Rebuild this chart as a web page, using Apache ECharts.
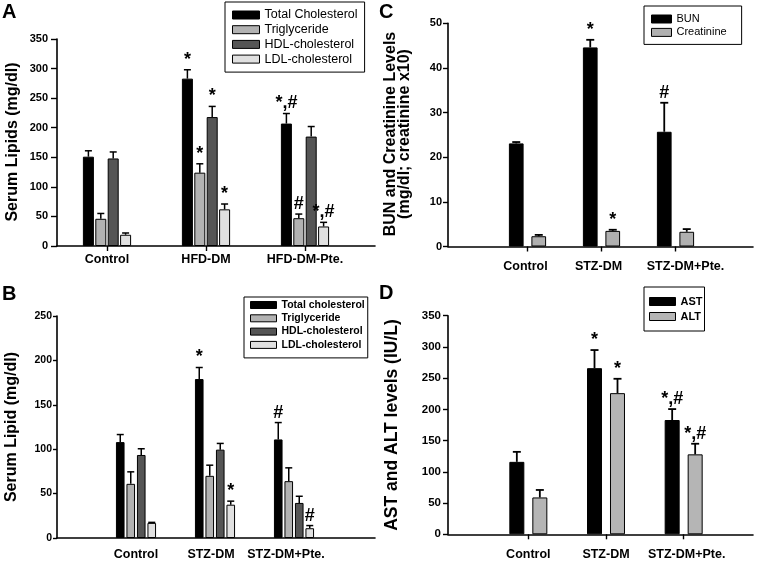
<!DOCTYPE html>
<html>
<head>
<meta charset="utf-8">
<script src="https://cdn.jsdelivr.net/npm/echarts@6/dist/echarts.min.js"></script>
<style>html,body{margin:0;padding:0;background:#fff}#c{width:764px;height:562px}</style>
</head>
<body>
<div id="c"></div>
<script>
// ---------- Panel A ----------
const catsA = ['Control', 'HFD-DM', 'HFD-DM-Pte.'];
const namesA = ['Total Cholesterol', 'Triglyceride', 'HDL-cholesterol', 'LDL-cholesterol'];
const tcA = [151, 283, 207];
const tgA = [46, 124, 47];
const hdlA = [148, 218, 185];
const ldlA = [19, 62, 33];
const tcErrA = [10, 15, 17];
const tgErrA = [9, 15, 7];
const hdlErrA = [11, 18, 17];
const ldlErrA = [3, 9, 7];
const tcSigA = ['', '*', '*,#'];
const tgSigA = ['', '*', '#'];
const hdlSigA = ['', '*', ''];
const ldlSigA = ['', '*', '*,#'];
const ticksA = {min: 0, max: 350, interval: 50};

// ---------- Panel B ----------
const catsB = ['Control', 'STZ-DM', 'STZ-DM+Pte.'];
const namesB = ['Total cholesterol', 'Triglyceride', 'HDL-cholesterol', 'LDL-cholesterol'];
const tcB = [108, 179, 111];
const tgB = [61, 70, 64];
const hdlB = [93.5, 99.5, 39.5];
const ldlB = [17, 37.5, 11];
const tcErrB = [8.5, 13, 19];
const tgErrB = [13.5, 12, 15];
const hdlErrB = [7, 7, 7.5];
const ldlErrB = [0.6, 4, 3];
const tcSigB = ['', '*', '#'];
const tgSigB = ['', '', ''];
const hdlSigB = ['', '', ''];
const ldlSigB = ['', '*', '#'];
const ticksB = {min: 0, max: 250, interval: 50};

// ---------- Panel C ----------
const catsC = ['Control', 'STZ-DM', 'STZ-DM+Pte.'];
const namesC = ['BUN', 'Creatinine'];
const bunC = [23.1, 44.6, 25.7];
const creatC = [2.3, 3.5, 3.3];
const bunErrC = [0.3, 1.7, 6.5];
const creatErrC = [0.3, 0.25, 0.6];
const bunSigC = ['', '*', '#'];
const creatSigC = ['', '*', ''];
const ticksC = {min: 0, max: 50, interval: 10};

// ---------- Panel D ----------
const catsD = ['Control', 'STZ-DM', 'STZ-DM+Pte.'];
const namesD = ['AST', 'ALT'];
const astD = [116, 266, 183];
const altD = [59, 226, 128];
const astErrD = [16, 29, 17.5];
const altErrD = [12, 23, 17];
const astSigD = ['', '*', '*,#'];
const altSigD = ['', '*', '*,#'];
const ticksD = {min: 0, max: 350, interval: 50};

const FONT = '"Liberation Sans", Arial, Helvetica, sans-serif';

const panels = [
  { cats: catsA, names: namesA, means: [tcA, tgA, hdlA, ldlA], errs: [tcErrA, tgErrA, hdlErrA, ldlErrA],
    sigs: [tcSigA, tgSigA, hdlSigA, ldlSigA], ticks: ticksA,
    colors: ['#000000', '#b2b2b2', '#555555', '#e0e0e0'],
    frame: {left: 57, top: 39, width: 318, height: 207},
    data: {left: 57.5, width: 297},
    barW: 11, gap: 1.4, capW: 7, errLW: 1.5,
    yLabel: {size: 11, margin: 9, tick: 6},
    xLabel: {size: 12.5, margin: 7, tick: true, shift: [0, 0, 0]},
    legend: {left: 225, top: 2, padding: [6, 7, 6, 7], itemWidth: 27, itemHeight: 8, lineHeight: 14, itemGap: 0.7, size: 12.5, weight: 'normal'}
  },
  { cats: catsB, names: namesB, means: [tcB, tgB, hdlB, ldlB], errs: [tcErrB, tgErrB, hdlErrB, ldlErrB],
    sigs: [tcSigB, tgSigB, hdlSigB, ldlSigB], ticks: ticksB,
    colors: ['#000000', '#b2b2b2', '#555555', '#e0e0e0'],
    frame: {left: 57, top: 316, width: 318, height: 222},
    data: {left: 96.5, width: 237},
    barW: 8.6, gap: 1.9, capW: 7, errLW: 1.5,
    yLabel: {size: 10.5, margin: 5, tick: 4},
    xLabel: {size: 12.5, margin: 10, tick: false, shift: [0, -4, -8]},
    legend: {left: 244, top: 297, padding: [2, 3, 7, 6], itemWidth: 26, itemHeight: 7, lineHeight: 12, itemGap: 1.3, size: 10.5, weight: 'bold'}
  },
  { cats: catsC, names: namesC, means: [bunC, creatC], errs: [bunErrC, creatErrC],
    sigs: [bunSigC, creatSigC], ticks: ticksC,
    colors: ['#000000', '#b0b0b0'],
    frame: {left: 448, top: 23.3, width: 305, height: 223.2},
    data: {left: 490.5, width: 222},
    barW: 14.7, gap: 7.8, capW: 8, errLW: 1.8,
    yLabel: {size: 11, margin: 6, tick: 5},
    xLabel: {size: 12.5, margin: 14, tick: true, shift: [-2, -3, 10]},
    legend: {left: 644, top: 6, padding: [7, 15, 6, 7], itemWidth: 20, itemHeight: 8, lineHeight: 12, itemGap: 1.4, size: 11, weight: 'normal'}
  },
  { cats: catsD, names: namesD, means: [astD, altD], errs: [astErrD, altErrD],
    sigs: [astSigD, altSigD], ticks: ticksD,
    colors: ['#000000', '#b5b5b5'],
    frame: {left: 448, top: 315.7, width: 305, height: 218.6},
    data: {left: 489.5, width: 233},
    barW: 15, gap: 8, capW: 8, errLW: 1.8,
    yLabel: {size: 11.5, margin: 7, tick: 5},
    xLabel: {size: 12.5, margin: 14, tick: true, shift: [0, 0, 3]},
    legend: {left: 644, top: 287, padding: [8, 2, 8, 5], itemWidth: 26, itemHeight: 8, lineHeight: 13, itemGap: 2, size: 11, weight: 'bold'}
  }
];

const grid = [], xAxis = [], yAxis = [], series = [], legend = [];
const axisLineStyle = {color: '#000', width: 1.6};

panels.forEach((p, pi) => {
  const fi = pi * 2, di = pi * 2 + 1;
  grid.push({left: p.frame.left, top: p.frame.top, width: p.frame.width, height: p.frame.height, containLabel: false});
  grid.push({left: p.data.left, top: p.frame.top, width: p.data.width, height: p.frame.height, containLabel: false});
  // frame axes
  xAxis.push({gridIndex: fi, type: 'value', min: 0, max: 1, axisLine: {show: true, lineStyle: axisLineStyle},
    axisTick: {show: false}, axisLabel: {show: false}, splitLine: {show: false}});
  yAxis.push({gridIndex: fi, type: 'value', min: p.ticks.min, max: p.ticks.max, interval: p.ticks.interval,
    axisLine: {show: true, lineStyle: axisLineStyle},
    axisTick: {show: true, inside: false, length: p.yLabel.tick, lineStyle: {color: '#000', width: 1.4}},
    axisLabel: {color: '#000', fontFamily: FONT, fontWeight: 'bold', fontSize: p.yLabel.size, margin: p.yLabel.margin},
    splitLine: {show: false}});
  // data axes (label shifts via rich padding)
  const rich = {};
  p.xLabel.shift.forEach((s, i) => {
    rich['l' + i] = {color: '#000', fontFamily: FONT, fontWeight: 'bold', fontSize: p.xLabel.size,
      padding: s >= 0 ? [0, 0, 0, 2 * s] : [0, -2 * s, 0, 0]};
  });
  xAxis.push({gridIndex: di, type: 'category', data: p.cats, boundaryGap: true,
    axisLine: {show: false},
    axisTick: {show: p.xLabel.tick, alignWithLabel: true, length: 5, lineStyle: {color: '#000', width: 1.4}},
    axisLabel: {color: '#000', fontFamily: FONT, fontWeight: 'bold', fontSize: p.xLabel.size, margin: p.xLabel.margin, interval: 0,
      formatter: (v, i) => '{l' + i + '|' + v + '}', rich: rich},
    splitLine: {show: false}});
  yAxis.push({gridIndex: di, type: 'value', min: p.ticks.min, max: p.ticks.max, interval: p.ticks.interval, show: false,
    splitLine: {show: false}});

  const n = p.names.length;
  p.names.forEach((name, si) => {
    series.push({
      type: 'bar', name: name, xAxisIndex: di, yAxisIndex: di,
      data: p.means[si], barWidth: p.barW, barGap: (p.gap / p.barW * 100).toFixed(2) + '%',
      itemStyle: {color: p.colors[si], borderColor: '#000', borderWidth: 1},
      emphasis: {disabled: true}, z: 2
    });
  });
  p.names.forEach((name, si) => {
    const means = p.means[si], errs = p.errs[si], sigs = p.sigs[si];
    series.push({
      type: 'custom', xAxisIndex: di, yAxisIndex: di, silent: true, z: 3,
      data: means.map((m, i) => [i, m, m + errs[i]]),
      encode: {x: 0, y: [1, 2]},
      renderItem: function (params, api) {
        const i = api.value(0);
        const base = api.coord([i, api.value(1)]);
        const top = api.coord([i, api.value(2)]);
        const off = (si - (n - 1) / 2) * (p.barW + p.gap);
        const x = base[0] + off;
        const st = {stroke: '#000', lineWidth: p.errLW};
        const children = [
          {type: 'line', shape: {x1: x, y1: base[1], x2: x, y2: top[1]}, style: st},
          {type: 'line', shape: {x1: x - p.capW / 2, y1: top[1], x2: x + p.capW / 2, y2: top[1]}, style: st}
        ];
        if (sigs[i]) {
          children.push({type: 'text', x: x, y: top[1] - 1,
            style: {text: sigs[i], fill: '#000', font: 'bold 18px ' + FONT, textAlign: 'center', textVerticalAlign: 'bottom'}});
        }
        return {type: 'group', children: children};
      }
    });
  });

  const L = p.legend;
  legend.push({
    data: p.names, orient: 'vertical', left: L.left, top: L.top, padding: L.padding,
    itemWidth: L.itemWidth, itemHeight: L.itemHeight, itemGap: L.itemGap, icon: 'rect',
    borderColor: '#000', borderWidth: 1, selectedMode: false,
    itemStyle: {borderColor: '#000', borderWidth: 1},
    textStyle: {color: '#000', fontFamily: FONT, fontSize: L.size, fontWeight: L.weight, lineHeight: L.lineHeight}
  });
});

function rotText(x, y, text, size, lh) {
  return {type: 'text', x: x, y: y, rotation: Math.PI / 2,
    style: {text: text, fill: '#000', font: 'bold ' + size + 'px ' + FONT, textAlign: 'center', textVerticalAlign: 'middle', lineHeight: lh || size}};
}
function letter(x, y, t) {
  return {type: 'text', x: x, y: y, style: {text: t, fill: '#000', font: 'bold 20px ' + FONT, textAlign: 'left', textVerticalAlign: 'top'}};
}

const graphic = [
  letter(2, 2, 'A'), letter(2, 284, 'B'), letter(379, 2, 'C'), letter(379, 283, 'D'),
  rotText(13, 142, 'Serum Lipids (mg/dl)', 16),
  rotText(12, 427, 'Serum Lipid (mg/dl)', 16),
  rotText(398, 134, 'BUN and Creatinine Levels\n(mg/dl; creatinine x10)', 16, 14),
  rotText(392, 425, 'AST and ALT levels (IU/L)', 17.5)
];

const chart = echarts.init(document.getElementById('c'), null, {renderer: 'canvas'});
chart.setOption({
  animation: false,
  backgroundColor: '#fff',
  grid: grid, xAxis: xAxis, yAxis: yAxis, series: series, legend: legend, graphic: graphic
});
</script>
</body>
</html>
